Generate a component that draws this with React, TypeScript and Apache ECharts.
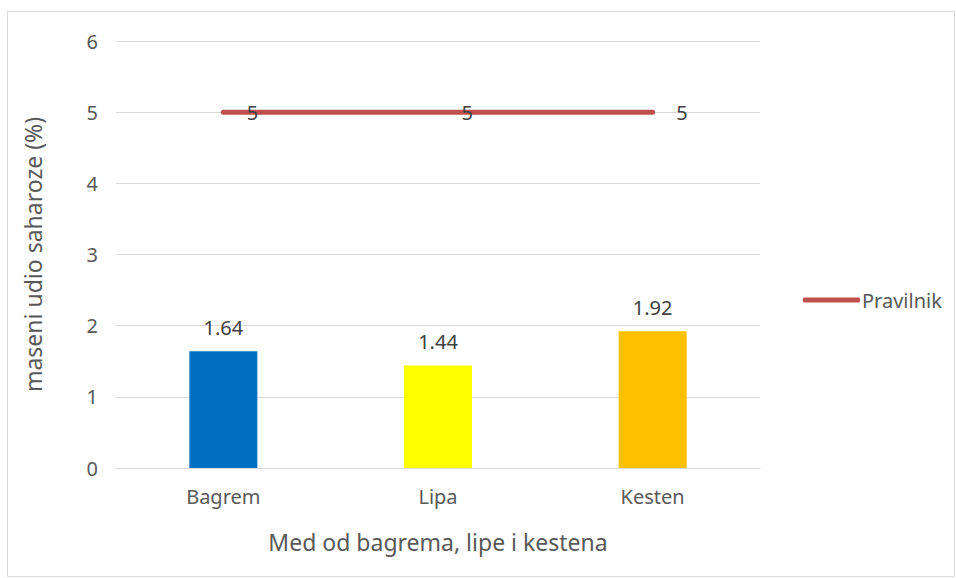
import React, { useEffect, useRef } from "react";
import * as echarts from "echarts";

const categories = ["Bagrem", "Lipa", "Kesten"];
const sucroseValues = [1.64, 1.44, 1.92];
const barColors = ["#0070C0", "#FFFF00", "#FFC000"];
const regulationName = "Pravilnik";
const regulationValues = [5, 5, 5];
const yTicks = { min: 0, max: 6, interval: 1 };
const xTitle = "Med od bagrema, lipe i kestena";
const yTitle = "maseni udio saharoze (%)";

const FONT = "'Noto Sans', 'Open Sans', sans-serif";

export default function App() {
  const ref = useRef<HTMLDivElement>(null);
  useEffect(() => {
    const chart = echarts.init(ref.current!, null, { renderer: "svg" });
    chart.setOption({
      animation: false,
      textStyle: { fontFamily: FONT },
      graphic: [
        {
          type: "rect",
          shape: { x: 7.5, y: 11.5, width: 947, height: 565 },
          style: { fill: "none", stroke: "#D9D9D9", lineWidth: 1 },
          silent: true,
        },
      ],
      grid: { left: 116, right: 196, top: 41, bottom: 110, containLabel: false },
      legend: {
        data: [regulationName],
        left: 798,
        top: 285,
        orient: "vertical",
        itemWidth: 57,
        itemHeight: 5,
        itemGap: 4,
        icon: "roundRect",
        textStyle: { color: "#595959", fontSize: 20, fontFamily: FONT, padding: [0, 0, 0, -3] },
      },
      xAxis: {
        type: "category",
        data: categories,
        axisLine: { show: true, lineStyle: { color: "#D9D9D9", width: 1 } },
        axisTick: { show: false },
        axisLabel: { color: "#595959", fontSize: 20, margin: 18, fontFamily: FONT },
        name: xTitle,
        nameLocation: "middle",
        nameGap: 62,
        nameTextStyle: { color: "#595959", fontSize: 23, fontFamily: FONT },
      },
      yAxis: {
        type: "value",
        min: yTicks.min,
        max: yTicks.max,
        interval: yTicks.interval,
        axisLine: { show: false },
        axisTick: { show: false },
        splitLine: { lineStyle: { color: "#D9D9D9", width: 1 } },
        axisLabel: { color: "#595959", fontSize: 20, margin: 18, fontFamily: FONT },
        name: yTitle,
        nameLocation: "middle",
        nameGap: 72,
        nameRotate: 90,
        nameTextStyle: { color: "#595959", fontSize: 23, fontFamily: FONT },
      },
      series: [
        {
          type: "bar",
          name: "Saharoza",
          data: sucroseValues.map((v, i) => ({ value: v, itemStyle: { color: barColors[i] } })),
          barWidth: 68,
          label: {
            show: true,
            position: "top",
            distance: 14,
            color: "#404040",
            fontSize: 20,
            fontFamily: FONT,
          },
        },
        {
          type: "line",
          name: regulationName,
          data: regulationValues,
          symbol: "circle",
          symbolSize: 1,
          showSymbol: true,
          lineStyle: { color: "#C0504D", width: 5, cap: "round" },
          itemStyle: { color: "#C0504D" },
          label: {
            show: true,
            position: "right",
            distance: 23,
            color: "#404040",
            fontSize: 20,
            fontFamily: FONT,
          },
          z: 3,
        },
      ],
    });
    return () => chart.dispose();
  }, []);
  return (
    <div
      ref={ref}
      style={{ position: "fixed", left: 0, top: 0, width: 956, height: 578, background: "#fff" }}
    />
  );
}
